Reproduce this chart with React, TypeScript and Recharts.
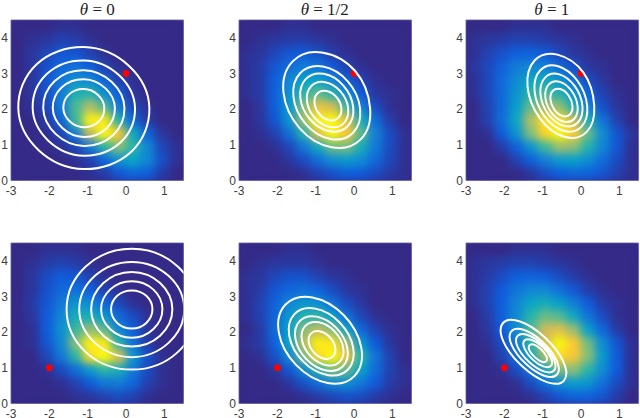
import { ComposedChart, Line, ReferenceArea, Scatter, XAxis, YAxis } from 'recharts';

type Pt = [number, number];

const xTicks = [-3, -2, -1, 0, 1];
const yTicks = [0, 1, 2, 3, 4];
const cellX = [-2.8125, -2.4375, -2.0625, -1.6875, -1.3125, -0.9375, -0.5625, -0.1875, 0.1875, 0.5625, 0.9375, 1.3125];
const cellY = [4.3125, 3.9375, 3.5625, 3.1875, 2.8125, 2.4375, 2.0625, 1.6875, 1.3125, 0.9375, 0.5625, 0.1875];

const heat1 = [
  [0, 0, 0, 0.01, 0.01, 0, 0, 0, 0, 0, 0, 0],
  [0, 0.01, 0.02, 0.04, 0.03, 0.01, 0, 0, 0, 0, 0, 0],
  [0, 0.02, 0.05, 0.08, 0.08, 0.04, 0.01, 0, 0, 0, 0, 0],
  [0, 0.02, 0.07, 0.13, 0.15, 0.1, 0.04, 0.01, 0, 0, 0, 0],
  [0, 0.02, 0.08, 0.17, 0.25, 0.22, 0.12, 0.04, 0.01, 0, 0, 0],
  [0, 0.02, 0.07, 0.19, 0.38, 0.4, 0.25, 0.1, 0.02, 0, 0, 0],
  [0, 0.01, 0.05, 0.18, 0.47, 0.62, 0.48, 0.18, 0.05, 0.01, 0, 0],
  [0, 0, 0.03, 0.12, 0.45, 0.9, 0.88, 0.4, 0.12, 0.03, 0, 0],
  [0, 0, 0.01, 0.05, 0.2, 0.65, 1, 0.8, 0.35, 0.12, 0.02, 0],
  [0, 0, 0, 0.01, 0.05, 0.18, 0.42, 0.55, 0.42, 0.22, 0.05, 0.01],
  [0, 0, 0, 0, 0.01, 0.04, 0.12, 0.25, 0.32, 0.22, 0.07, 0.01],
  [0, 0, 0, 0, 0, 0.01, 0.03, 0.08, 0.12, 0.1, 0.03, 0],
];
const heat2 = [
  [0, 0, 0, 0.01, 0.01, 0, 0, 0, 0, 0, 0, 0],
  [0, 0.01, 0.02, 0.03, 0.03, 0.02, 0.01, 0, 0, 0, 0, 0],
  [0.01, 0.02, 0.05, 0.08, 0.09, 0.07, 0.03, 0.01, 0, 0, 0, 0],
  [0.01, 0.03, 0.08, 0.14, 0.18, 0.16, 0.09, 0.04, 0.01, 0, 0, 0],
  [0.01, 0.03, 0.1, 0.21, 0.3, 0.31, 0.21, 0.1, 0.04, 0.01, 0, 0],
  [0.01, 0.03, 0.1, 0.25, 0.43, 0.5, 0.4, 0.23, 0.09, 0.02, 0.01, 0],
  [0, 0.02, 0.1, 0.28, 0.55, 0.74, 0.69, 0.45, 0.2, 0.06, 0.01, 0],
  [0, 0.02, 0.08, 0.26, 0.59, 0.91, 0.98, 0.74, 0.38, 0.14, 0.03, 0],
  [0, 0.01, 0.04, 0.15, 0.4, 0.73, 0.92, 0.8, 0.49, 0.2, 0.06, 0.01],
  [0, 0, 0.01, 0.05, 0.17, 0.35, 0.52, 0.53, 0.37, 0.18, 0.06, 0.01],
  [0, 0, 0, 0.02, 0.06, 0.14, 0.24, 0.28, 0.23, 0.13, 0.05, 0.01],
  [0, 0, 0, 0, 0.01, 0.04, 0.07, 0.1, 0.09, 0.06, 0.03, 0.01],
];
const heat3 = [
  [0, 0, 0, 0.01, 0.01, 0.01, 0, 0, 0, 0, 0, 0],
  [0.01, 0.02, 0.03, 0.04, 0.04, 0.03, 0.02, 0.01, 0, 0, 0, 0],
  [0.01, 0.04, 0.07, 0.1, 0.11, 0.09, 0.05, 0.02, 0.01, 0, 0, 0],
  [0.02, 0.05, 0.11, 0.18, 0.22, 0.2, 0.13, 0.07, 0.02, 0.01, 0, 0],
  [0.01, 0.05, 0.13, 0.23, 0.33, 0.34, 0.26, 0.15, 0.06, 0.02, 0, 0],
  [0.01, 0.05, 0.13, 0.26, 0.41, 0.47, 0.4, 0.26, 0.12, 0.04, 0.01, 0],
  [0, 0.04, 0.13, 0.29, 0.5, 0.61, 0.57, 0.39, 0.2, 0.07, 0.02, 0],
  [0, 0.04, 0.14, 0.33, 0.62, 0.86, 0.87, 0.67, 0.38, 0.16, 0.04, 0],
  [0, 0.01, 0.09, 0.26, 0.54, 0.83, 0.95, 0.81, 0.51, 0.24, 0.08, 0.02],
  [0, 0, 0.03, 0.11, 0.26, 0.45, 0.59, 0.56, 0.4, 0.22, 0.08, 0.01],
  [0, 0, 0, 0.04, 0.1, 0.19, 0.28, 0.3, 0.24, 0.14, 0.06, 0.01],
  [0, 0, 0, 0, 0.02, 0.06, 0.1, 0.12, 0.11, 0.08, 0.04, 0.01],
];
const heat4 = [
  [0, 0, 0.01, 0.01, 0.01, 0, 0, 0, 0, 0, 0, 0],
  [0, 0.01, 0.03, 0.04, 0.03, 0.01, 0, 0, 0, 0, 0, 0],
  [0, 0.02, 0.06, 0.09, 0.08, 0.04, 0.01, 0, 0, 0, 0, 0],
  [0, 0.02, 0.07, 0.13, 0.15, 0.1, 0.04, 0.01, 0, 0, 0, 0],
  [0, 0.03, 0.08, 0.17, 0.26, 0.22, 0.12, 0.05, 0.01, 0, 0, 0],
  [0, 0.02, 0.09, 0.21, 0.37, 0.37, 0.27, 0.13, 0.06, 0.01, 0, 0],
  [0, 0.01, 0.09, 0.25, 0.45, 0.58, 0.5, 0.22, 0.1, 0.02, 0, 0],
  [0, 0.01, 0.08, 0.22, 0.55, 0.9, 0.88, 0.42, 0.15, 0.03, 0, 0],
  [0, 0, 0.05, 0.17, 0.42, 0.85, 1, 0.72, 0.28, 0.07, 0.01, 0],
  [0, 0, 0.01, 0.06, 0.14, 0.28, 0.42, 0.37, 0.18, 0.06, 0.01, 0],
  [0, 0, 0, 0.01, 0.04, 0.09, 0.17, 0.18, 0.12, 0.04, 0.01, 0],
  [0, 0, 0, 0, 0.01, 0.02, 0.04, 0.06, 0.04, 0.01, 0, 0],
];
const heat5 = [
  [0, 0, 0, 0.01, 0.01, 0, 0, 0, 0, 0, 0, 0],
  [0, 0.01, 0.02, 0.02, 0.02, 0.01, 0, 0, 0, 0, 0, 0],
  [0.01, 0.02, 0.05, 0.07, 0.07, 0.04, 0.02, 0.01, 0, 0, 0, 0],
  [0.01, 0.03, 0.08, 0.12, 0.14, 0.11, 0.06, 0.02, 0.01, 0, 0, 0],
  [0.01, 0.04, 0.11, 0.21, 0.27, 0.24, 0.15, 0.06, 0.02, 0, 0, 0],
  [0.01, 0.04, 0.12, 0.27, 0.4, 0.42, 0.3, 0.15, 0.05, 0.01, 0, 0],
  [0, 0.03, 0.13, 0.31, 0.55, 0.66, 0.55, 0.32, 0.13, 0.04, 0.01, 0],
  [0.01, 0.03, 0.11, 0.32, 0.64, 0.9, 0.87, 0.6, 0.27, 0.09, 0.02, 0],
  [0, 0.01, 0.07, 0.21, 0.52, 0.84, 0.97, 0.77, 0.41, 0.16, 0.04, 0],
  [0, 0, 0.02, 0.08, 0.22, 0.41, 0.54, 0.5, 0.31, 0.14, 0.04, 0.01],
  [0, 0, 0, 0.02, 0.07, 0.14, 0.22, 0.24, 0.17, 0.09, 0.03, 0.01],
  [0, 0, 0, 0, 0.01, 0.03, 0.05, 0.07, 0.06, 0.03, 0.01, 0],
];
const heat6 = [
  [0, 0, 0, 0.01, 0.01, 0.01, 0, 0, 0, 0, 0, 0],
  [0.01, 0.02, 0.03, 0.04, 0.04, 0.03, 0.02, 0.01, 0, 0, 0, 0],
  [0.01, 0.03, 0.06, 0.1, 0.11, 0.09, 0.06, 0.03, 0.01, 0, 0, 0],
  [0.01, 0.04, 0.09, 0.16, 0.21, 0.21, 0.15, 0.08, 0.03, 0.01, 0, 0],
  [0.01, 0.04, 0.1, 0.21, 0.32, 0.36, 0.3, 0.19, 0.09, 0.03, 0.01, 0],
  [0, 0.03, 0.1, 0.23, 0.41, 0.51, 0.48, 0.34, 0.16, 0.06, 0.01, 0],
  [0, 0.02, 0.09, 0.24, 0.47, 0.67, 0.72, 0.58, 0.3, 0.12, 0.03, 0],
  [0, 0.01, 0.06, 0.18, 0.42, 0.7, 0.92, 0.8, 0.52, 0.24, 0.08, 0.01],
  [0, 0, 0.04, 0.14, 0.33, 0.6, 0.85, 0.78, 0.55, 0.28, 0.09, 0.01],
  [0, 0, 0.01, 0.06, 0.17, 0.35, 0.53, 0.56, 0.42, 0.24, 0.09, 0.01],
  [0, 0, 0, 0.01, 0.06, 0.14, 0.24, 0.29, 0.26, 0.15, 0.06, 0.01],
  [0, 0, 0, 0, 0.01, 0.04, 0.08, 0.11, 0.11, 0.08, 0.03, 0],
];

const rings1: Pt[][] = [
  [[0.61, 2.03], [0.08, 3.21], [-1.1, 3.74], [-2.33, 3.26], [-2.81, 2.03], [-2.28, 0.85], [-1.1, 0.32], [0.13, 0.8]],
  [[0.235, 2.03], [-0.18, 2.95], [-1.1, 3.365], [-2.06, 2.99], [-2.435, 2.03], [-2.02, 1.11], [-1.1, 0.695], [-0.14, 1.07]],
  [[-0.04, 2.03], [-0.37, 2.76], [-1.1, 3.09], [-1.86, 2.79], [-2.16, 2.03], [-1.83, 1.3], [-1.1, 0.97], [-0.34, 1.27]],
  [[-0.29, 2.03], [-0.54, 2.59], [-1.1, 2.84], [-1.68, 2.61], [-1.91, 2.03], [-1.66, 1.47], [-1.1, 1.22], [-0.52, 1.45]],
  [[-0.565, 2.03], [-0.73, 2.4], [-1.1, 2.565], [-1.485, 2.415], [-1.635, 2.03], [-1.47, 1.66], [-1.1, 1.495], [-0.715, 1.645]],
];
const rings2: Pt[][] = [
  [[0.18, 1.16], [0.42, 2.03], [0.03, 3.07], [-0.84, 3.59], [-1.6, 3.34], [-1.84, 2.47], [-1.42, 1.47], [-0.58, 0.93]],
  [[-0.025, 1.34], [0.16, 2.01], [-0.163, 2.78], [-0.81, 3.196], [-1.395, 3.02], [-1.58, 2.35], [-1.257, 1.58], [-0.61, 1.164]],
  [[-0.167, 1.52], [-0.02, 2.05], [-0.277, 2.66], [-0.79, 2.99], [-1.253, 2.85], [-1.4, 2.32], [-1.143, 1.71], [-0.63, 1.38]],
  [[-0.267, 1.61], [-0.153, 2.025], [-0.353, 2.5], [-0.752, 2.757], [-1.113, 2.648], [-1.227, 2.235], [-1.027, 1.76], [-0.628, 1.503]],
  [[-0.404, 1.762], [-0.33, 2.032], [-0.46, 2.342], [-0.72, 2.509], [-0.956, 2.438], [-1.03, 2.168], [-0.9, 1.858], [-0.64, 1.691]],
];
const rings3: Pt[][] = [
  [[0.155, 1.37], [0.345, 2.1], [0.06, 3.03], [-0.615, 3.53], [-1.205, 3.37], [-1.395, 2.64], [-1.075, 1.75], [-0.435, 1.225]],
  [[0.012, 1.51], [0.162, 2.087], [-0.09, 2.79], [-0.596, 3.205], [-1.062, 3.09], [-1.212, 2.513], [-0.96, 1.81], [-0.454, 1.395]],
  [[-0.082, 1.625], [0.038, 2.085], [-0.163, 2.645], [-0.567, 2.976], [-0.938, 2.885], [-1.058, 2.425], [-0.857, 1.865], [-0.453, 1.534]],
  [[-0.18, 1.725], [-0.088, 2.079], [-0.243, 2.51], [-0.554, 2.765], [-0.84, 2.695], [-0.932, 2.341], [-0.777, 1.91], [-0.466, 1.655]],
  [[-0.286, 1.855], [-0.223, 2.096], [-0.328, 2.39], [-0.54, 2.563], [-0.734, 2.515], [-0.797, 2.274], [-0.692, 1.98], [-0.48, 1.807]],
];
const rings4: Pt[][] = [
  [[1.85, 2.64], [1.35, 3.84], [0.15, 4.34], [-1.05, 3.84], [-1.55, 2.64], [-1.05, 1.44], [0.15, 0.95], [1.35, 1.44]],
  [[1.52, 2.64], [1.11, 3.58], [0.15, 3.97], [-0.81, 3.58], [-1.22, 2.64], [-0.81, 1.7], [0.15, 1.3], [1.11, 1.7]],
  [[1.21, 2.64], [0.89, 3.38], [0.15, 3.69], [-0.59, 3.38], [-0.91, 2.64], [-0.59, 1.9], [0.15, 1.6], [0.89, 1.9]],
  [[0.95, 2.64], [0.71, 3.2], [0.15, 3.43], [-0.41, 3.2], [-0.65, 2.64], [-0.41, 2.08], [0.15, 1.84], [0.71, 2.08]],
  [[0.69, 2.64], [0.53, 3.02], [0.15, 3.17], [-0.23, 3.02], [-0.39, 2.64], [-0.23, 2.26], [0.15, 2.1], [0.53, 2.26]],
];
const rings5: Pt[][] = [
  [[0.015, 0.775], [0.19, 1.565], [-0.265, 2.475], [-1.085, 2.975], [-1.785, 2.775], [-1.96, 1.985], [-1.505, 1.075], [-0.685, 0.575]],
  [[-0.157, 0.955], [-0.022, 1.567], [-0.375, 2.273], [-1.01, 2.66], [-1.553, 2.505], [-1.688, 1.893], [-1.335, 1.187], [-0.7, 0.8]],
  [[-0.283, 1.05], [-0.173, 1.548], [-0.46, 2.121], [-0.976, 2.436], [-1.417, 2.31], [-1.527, 1.812], [-1.24, 1.239], [-0.724, 0.924]],
  [[-0.37, 1.175], [-0.282, 1.57], [-0.51, 2.025], [-0.92, 2.275], [-1.27, 2.175], [-1.358, 1.78], [-1.13, 1.325], [-0.72, 1.075]],
  [[-0.547, 1.32], [-0.491, 1.573], [-0.637, 1.864], [-0.899, 2.024], [-1.123, 1.96], [-1.179, 1.707], [-1.033, 1.416], [-0.771, 1.256]],
];
const rings6: Pt[][] = [
  [[-0.44, 0.65], [-0.46, 1.17], [-0.94, 1.85], [-1.59, 2.3], [-2.04, 2.25], [-2.02, 1.73], [-1.54, 1.05], [-0.89, 0.6]],
  [[-0.62, 0.82], [-0.635, 1.21], [-0.995, 1.72], [-1.48, 2.06], [-1.82, 2.02], [-1.805, 1.63], [-1.445, 1.12], [-0.96, 0.78]],
  [[-0.7, 0.93], [-0.71, 1.24], [-1, 1.65], [-1.39, 1.92], [-1.66, 1.89], [-1.65, 1.58], [-1.36, 1.17], [-0.97, 0.9]],
  [[-0.78, 1.06], [-0.79, 1.29], [-1, 1.59], [-1.28, 1.78], [-1.48, 1.76], [-1.47, 1.53], [-1.26, 1.23], [-0.98, 1.04]],
  [[-0.905, 1.19], [-0.905, 1.33], [-1.045, 1.52], [-1.225, 1.65], [-1.345, 1.63], [-1.345, 1.49], [-1.205, 1.3], [-1.025, 1.17]],
];

const redTop = [{ x: 0, y: 3 }];
const redBottom = [{ x: -2, y: 1 }];

const PLOT_W = 172.5;
const PLOT_H = 160.5;
const AXIS_W = 11;
const CELL_W = PLOT_W / cellX.length;
const CELL_H = PLOT_H / cellY.length;

// parula stops, low to high
const parula = ['#352a87', '#0f5cdd', '#1481d6', '#06a4ca', '#2eb7a4', '#87bf77', '#d1bb59', '#fec832', '#f9fb0e'];

const mix = (a: string, b: string, t: number) => {
  const ch = (s: string, i: number) => parseInt(s.slice(i, i + 2), 16);
  const out = [1, 3, 5].map((i) => Math.round(ch(a, i) + (ch(b, i) - ch(a, i)) * t));
  return `rgb(${out.join(',')})`;
};

// lifted a little: the blur pulls the colours down
const colorOf = (v: number) => {
  const p = Math.min(Math.pow(v, 0.9) * 1.07, 0.9999) * (parula.length - 1);
  const i = Math.floor(p);
  return mix(parula[i], parula[i + 1], p - i);
};

const toCells = (rows: number[][]) =>
  rows.flatMap((row, r) => row.map((v, c) => ({ x: cellX[c], y: cellY[r], v })));

const toRing = (ring: Pt[]) => ring.map(([x, y]) => ({ x, y }));

// closed smooth curve through the ring's points, d3 curve factory shape
const closedCurve = (ctx: any) => {
  let pts: Pt[] = [];
  return {
    areaStart() {},
    areaEnd() {},
    lineStart() {
      pts = [];
    },
    point(x: number, y: number) {
      pts.push([x, y]);
    },
    lineEnd() {
      const n = pts.length;
      if (!n) return;
      ctx.moveTo(pts[0][0], pts[0][1]);
      pts.forEach((p, i) => {
        const a = pts[(i + n - 1) % n];
        const b = pts[(i + 1) % n];
        const c = pts[(i + 2) % n];
        ctx.bezierCurveTo(
          p[0] + (b[0] - a[0]) * 0.1875,
          p[1] + (b[1] - a[1]) * 0.1875,
          b[0] - (c[0] - p[0]) * 0.1875,
          b[1] - (c[1] - p[1]) * 0.1875,
          b[0],
          b[1],
        );
      });
      ctx.closePath();
    },
  };
};

const HeatCell = (props: any) => (
  <rect
    x={props.cx - CELL_W / 2 - 0.25}
    y={props.cy - CELL_H / 2 - 0.25}
    width={CELL_W + 0.5}
    height={CELL_H + 0.5}
    fill={colorOf(props.payload.v)}
  />
);

const RedDot = (props: any) => <circle cx={props.cx} cy={props.cy} r={3.4} fill="#ff0000" />;

interface PanelProps {
  left: number;
  top: number;
  heat: number[][];
  rings: Pt[][];
  dot: { x: number; y: number }[];
  title?: string;
}

const Panel = ({ left, top, heat, rings, dot, title }: PanelProps) => (
  <div style={{ position: 'absolute', left: left - AXIS_W, top: top - 19 }}>
    {title && (
      <div
        style={{
          position: 'absolute',
          left: AXIS_W,
          width: PLOT_W,
          top: 0,
          textAlign: 'center',
          fontFamily: 'Liberation Serif',
          fontSize: 17,
          lineHeight: '17px',
          color: '#222',
        }}
      >
        <i>θ</i> = {title}
      </div>
    )}
    <ComposedChart
      width={AXIS_W + PLOT_W + 2}
      height={19 + PLOT_H + 24}
      margin={{ top: 19, right: 2, bottom: 0, left: 0 }}
    >
      <XAxis
        dataKey="x"
        type="number"
        domain={[-3, 1.5]}
        ticks={xTicks}
        allowDataOverflow
        height={24}
        tickLine={false}
        axisLine={false}
        tickSize={0}
        tickMargin={6}
        interval={0}
        tick={{ fontSize: 12, fill: '#404040', fontFamily: 'Liberation Sans' }}
      />
      <YAxis
        dataKey="y"
        type="number"
        domain={[0, 4.5]}
        ticks={yTicks}
        allowDataOverflow
        width={AXIS_W}
        tickLine={false}
        axisLine={false}
        tickSize={0}
        tickMargin={3}
        interval={0}
        tick={{ fontSize: 12, fill: '#404040', fontFamily: 'Liberation Sans' }}
      />
      <ReferenceArea zIndex={10} x1={-3} x2={1.5} y1={0} y2={4.5} fill="#352a87" fillOpacity={1} stroke="#7f7bb0" />
      <Scatter zIndex={20} className="heat" data={toCells(heat)} shape={HeatCell} isAnimationActive={false} />
      <Scatter zIndex={30} data={dot} shape={RedDot} isAnimationActive={false} />
      {rings.map((ring, i) => (
        <Line
          key={i}
          zIndex={40}
          data={toRing(ring)}
          dataKey="y"
          type={closedCurve as any}
          stroke="#ffffff"
          strokeWidth={2}
          dot={false}
          activeDot={false}
          isAnimationActive={false}
        />
      ))}
    </ComposedChart>
  </div>
);

const App = () => (
  <div style={{ position: 'absolute', left: 0, top: 0, width: 640, height: 418, overflow: 'hidden', background: '#fff' }}>
    <style>{'.heat{filter:url(#heatBlur)}'}</style>
    <svg width={0} height={0} style={{ position: 'absolute' }}>
      <defs>
        <filter id="heatBlur" x="0" y="0" width="1" height="1" colorInterpolationFilters="sRGB">
          <feGaussianBlur stdDeviation="4.5" />
        </filter>
      </defs>
    </svg>
    <Panel left={11} top={19.5} heat={heat1} rings={rings1} dot={redTop} title="0" />
    <Panel left={238.5} top={19.5} heat={heat2} rings={rings2} dot={redTop} title="1/2" />
    <Panel left={465.5} top={19.5} heat={heat3} rings={rings3} dot={redTop} title="1" />
    <Panel left={11} top={243} heat={heat4} rings={rings4} dot={redBottom} />
    <Panel left={238.5} top={243} heat={heat5} rings={rings5} dot={redBottom} />
    <Panel left={465.5} top={243} heat={heat6} rings={rings6} dot={redBottom} />
  </div>
);

export default App;
